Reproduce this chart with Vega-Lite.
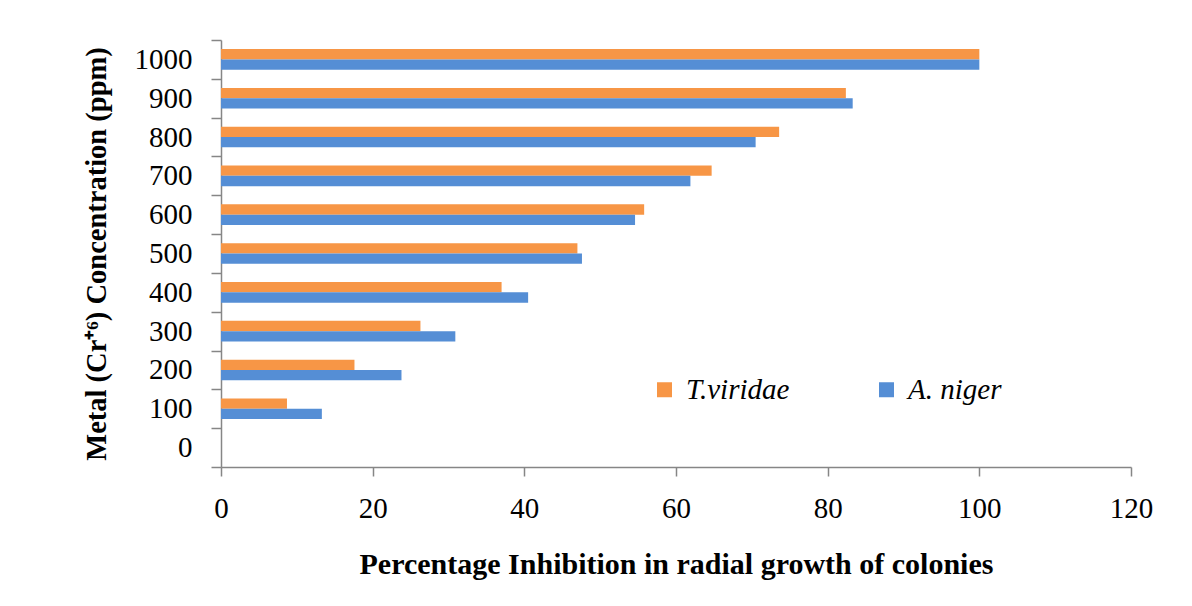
{
  "$schema": "https://vega.github.io/schema/vega-lite/v6.json",
  "width": 910,
  "height": 427,
  "autosize": {"type": "none"},
  "padding": {"left": 221, "top": 40, "right": 61, "bottom": 139},
  "background": "white",
  "config": {"view": {"stroke": null}, "font": "Liberation Serif"},
  "data": {
    "values": [
      {"conc": "1000", "fungus": "T.viridae", "value": 100},
      {"conc": "1000", "fungus": "A. niger", "value": 100},
      {"conc": "900", "fungus": "T.viridae", "value": 82.4},
      {"conc": "900", "fungus": "A. niger", "value": 83.3},
      {"conc": "800", "fungus": "T.viridae", "value": 73.6},
      {"conc": "800", "fungus": "A. niger", "value": 70.5},
      {"conc": "700", "fungus": "T.viridae", "value": 64.7},
      {"conc": "700", "fungus": "A. niger", "value": 61.9},
      {"conc": "600", "fungus": "T.viridae", "value": 55.8},
      {"conc": "600", "fungus": "A. niger", "value": 54.6},
      {"conc": "500", "fungus": "T.viridae", "value": 47.0},
      {"conc": "500", "fungus": "A. niger", "value": 47.6},
      {"conc": "400", "fungus": "T.viridae", "value": 37.0},
      {"conc": "400", "fungus": "A. niger", "value": 40.5},
      {"conc": "300", "fungus": "T.viridae", "value": 26.3},
      {"conc": "300", "fungus": "A. niger", "value": 30.9},
      {"conc": "200", "fungus": "T.viridae", "value": 17.6},
      {"conc": "200", "fungus": "A. niger", "value": 23.8},
      {"conc": "100", "fungus": "T.viridae", "value": 8.7},
      {"conc": "100", "fungus": "A. niger", "value": 13.3}
    ]
  },
  "mark": {"type": "bar"},
  "encoding": {
    "y": {
      "field": "conc",
      "type": "nominal",
      "scale": {
        "domain": ["1000", "900", "800", "700", "600", "500", "400", "300", "200", "100", "0"],
        "paddingInner": 0,
        "paddingOuter": 0
      },
      "axis": {
        "title": "Metal (Cr⁺⁶) Concentration (ppm)",
        "tickBand": "extent",
        "labelFontSize": 29,
        "labelColor": "black",
        "labelAngle": 0,
        "labelPadding": 19,
        "titleFontSize": 28.5,
        "titleFontWeight": "bold",
        "titleColor": "black",
        "titlePadding": 23,
        "domainColor": "#868686",
        "tickColor": "#868686",
        "tickSize": 10,
        "domainWidth": 1.5,
        "tickWidth": 1.5
      }
    },
    "yOffset": {
      "field": "fungus",
      "type": "nominal",
      "sort": ["T.viridae", "A. niger"],
      "scale": {"paddingOuter": 0.88, "paddingInner": 0}
    },
    "x": {
      "field": "value",
      "type": "quantitative",
      "scale": {"domain": [0, 120]},
      "axis": {
        "title": "Percentage Inhibition in radial growth of colonies",
        "values": [0, 20, 40, 60, 80, 100, 120],
        "grid": false,
        "labelFlush": false,
        "labelFontSize": 29,
        "labelColor": "black",
        "labelPadding": 18,
        "titleFontSize": 30,
        "titleFontWeight": "bold",
        "titleColor": "black",
        "titlePadding": 26,
        "domainColor": "#868686",
        "tickColor": "#868686",
        "tickSize": 9,
        "domainWidth": 1.5,
        "tickWidth": 1.5
      }
    },
    "color": {
      "field": "fungus",
      "type": "nominal",
      "sort": ["T.viridae", "A. niger"],
      "scale": {"domain": ["T.viridae", "A. niger"], "range": ["#F79646", "#558ED5"]},
      "legend": {
        "orient": "none",
        "legendX": 429,
        "legendY": 335,
        "padding": 0,
        "direction": "horizontal",
        "title": null,
        "symbolType": "square",
        "symbolSize": 225,
        "symbolStrokeWidth": 0,
        "labelFontSize": 29,
        "labelFontStyle": "italic",
        "labelColor": "black",
        "labelOffset": 7,
        "columnPadding": 82
      }
    }
  }
}
